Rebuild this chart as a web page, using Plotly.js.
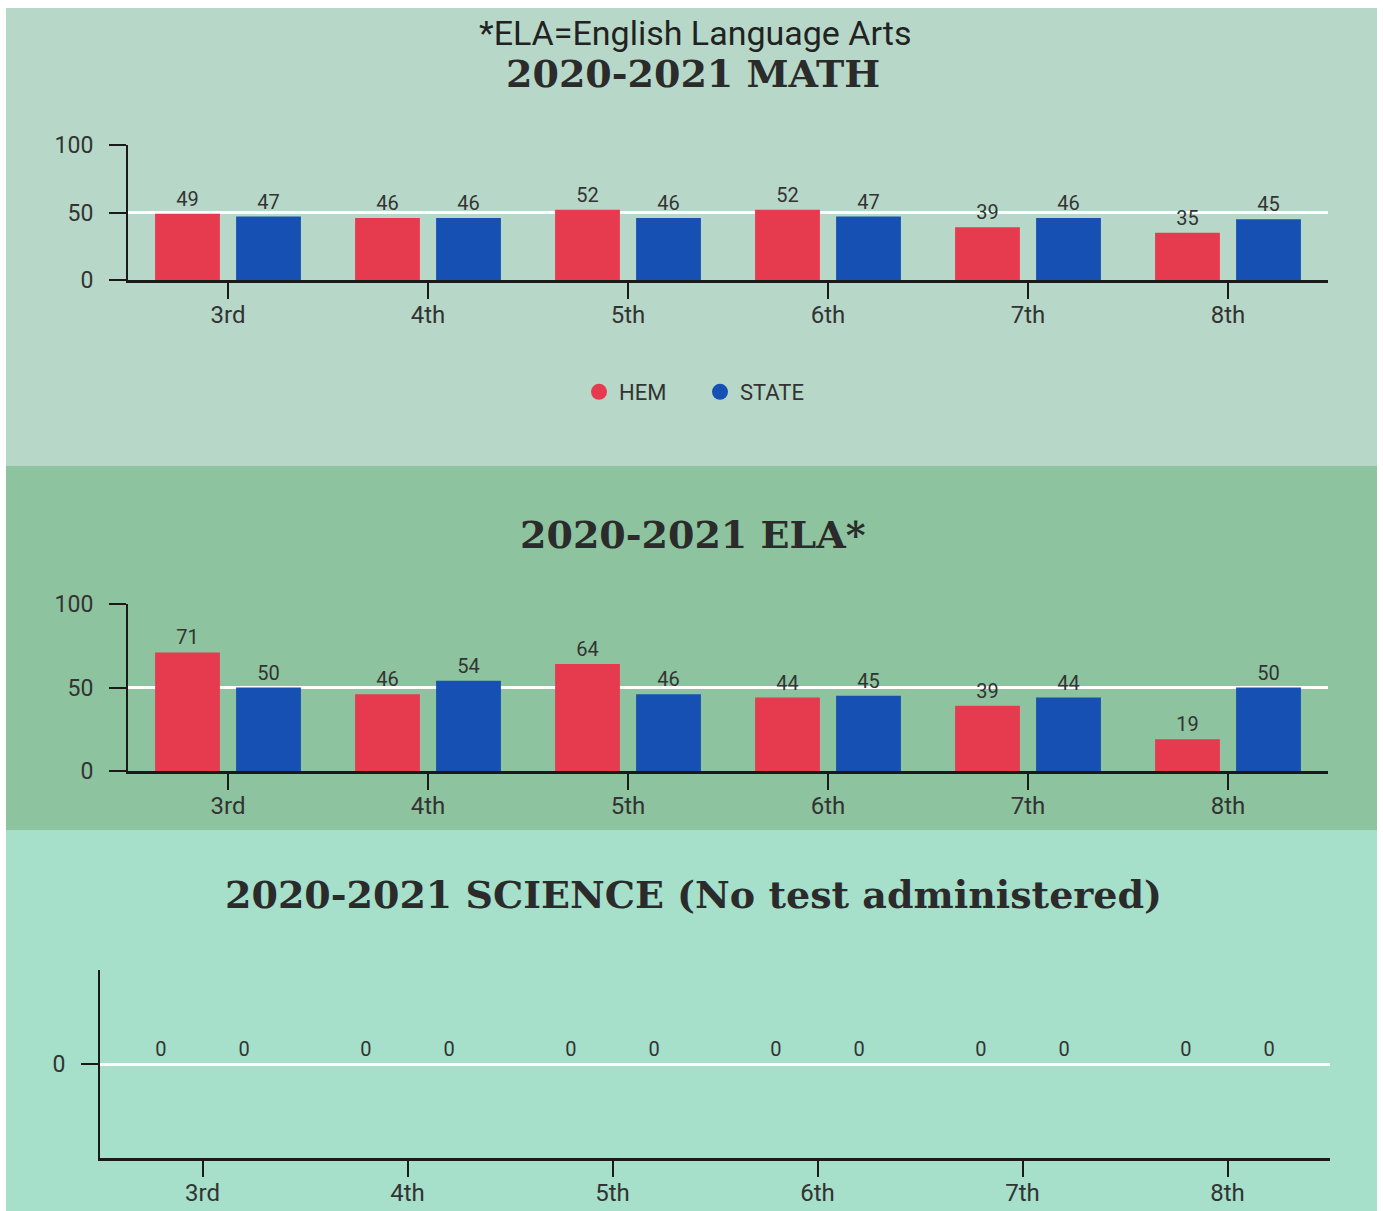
<!DOCTYPE html>
<html>
<head>
<meta charset="utf-8">
<script src="https://cdn.plot.ly/plotly-3.0.1.min.js"></script>
<style>html,body{margin:0;padding:0;background:#fff;}#chart{width:1383px;height:1211px;}</style>
</head>
<body>
<div id="chart"></div>
<script>
// ---- Data ----
const grades = ['3rd', '4th', '5th', '6th', '7th', '8th'];
const mathHem = [49, 46, 52, 52, 39, 35];
const mathState = [47, 46, 46, 47, 46, 45];
const elaHem = [71, 46, 64, 44, 39, 19];
const elaState = [50, 54, 46, 45, 44, 50];
const sciHem = [0, 0, 0, 0, 0, 0];
const sciState = [0, 0, 0, 0, 0, 0];
const seriesNames = ['HEM', 'STATE'];
const yTicksPct = [0, 50, 100];
const yTicksSci = [0];

// ---- Styles ----
const RED = '#e63a4e';
const BLUE = '#1550b2';
const TXT = '#333333';
const W = 1383, H = 1211;
const py = p => 1 - p / H;
const px = p => p / W;
const labelFont = {family: 'Roboto, "Liberation Sans", sans-serif', size: 20, color: TXT};

function bars(x, y, name, color, xa, ya) {
  return {
    type: 'bar', x: x, y: y, name: name, xaxis: xa, yaxis: ya,
    marker: {color: color}, showlegend: false,
    texttemplate: '%{y}', textposition: 'outside', textfont: labelFont,
    cliponaxis: false, hoverinfo: 'skip'
  };
}

const traces = [
  bars(grades, mathHem, seriesNames[0], RED, 'x', 'y'),
  bars(grades, mathState, seriesNames[1], BLUE, 'x', 'y'),
  bars(grades, elaHem, seriesNames[0], RED, 'x2', 'y2'),
  bars(grades, elaState, seriesNames[1], BLUE, 'x2', 'y2'),
  bars(grades, sciHem, seriesNames[0], RED, 'x3', 'y3'),
  bars(grades, sciState, seriesNames[1], BLUE, 'x3', 'y3'),
  // legend entries
  {type: 'scatter', mode: 'markers', x: [null], y: [null], name: seriesNames[0],
   marker: {color: RED, size: 24, symbol: 'circle'}, xaxis: 'x', yaxis: 'y'},
  {type: 'scatter', mode: 'markers', x: [null], y: [null], name: seriesNames[1],
   marker: {color: BLUE, size: 24, symbol: 'circle'}, xaxis: 'x', yaxis: 'y'}
];

const tickFontY = {family: 'Roboto, sans-serif', size: 23, color: TXT};
const tickFontX = {family: 'Roboto, sans-serif', size: 24, color: TXT};

function xaxis(domain, anchor) {
  return {
    domain: domain, anchor: anchor, type: 'category', categoryorder: 'array', categoryarray: grades,
    range: [-0.5, 5.5], showline: true, linecolor: '#1a1a1a', linewidth: 3,
    ticks: 'outside', ticklen: 16, tickwidth: 2, tickcolor: '#1a1a1a',
    tickfont: tickFontX, ticklabelstandoff: -5, showgrid: false, zeroline: false, fixedrange: true
  };
}
function yaxis(domain, anchor, range, tickvals) {
  return {
    domain: domain, anchor: anchor, range: range, tickvals: tickvals, ticktext: tickvals.map(String),
    showline: true, linecolor: '#1a1a1a', linewidth: 2,
    ticks: 'outside', ticklen: 17, tickwidth: 2, tickcolor: '#1a1a1a',
    tickfont: tickFontY, ticklabelstandoff: 11,
    showgrid: true, gridcolor: '#ffffff', gridwidth: 3, zeroline: false, fixedrange: true
  };
}

const titleFont = {family: '"DejaVu Serif", serif', size: 38, color: '#2b2b2b', weight: 'bold'};

const layout = {
  width: W, height: H,
  margin: {l: 0, r: 0, t: 0, b: 0},
  paper_bgcolor: '#ffffff',
  plot_bgcolor: 'rgba(0,0,0,0)',
  barmode: 'group', bargap: 0.19, bargroupgap: 0.2,
  showlegend: true,
  legend: {orientation: 'h', x: px(700), xanchor: 'center', y: py(392), yanchor: 'middle',
    entrywidth: 76, entrywidthmode: 'pixels',
    font: {family: 'Roboto, sans-serif', size: 22, color: TXT}, bgcolor: 'rgba(0,0,0,0)',
    itemclick: false, itemdoubleclick: false},
  xaxis: xaxis([px(128), px(1328)], 'y'),
  yaxis: yaxis([py(280), py(145)], 'x', [0, 100], yTicksPct),
  xaxis2: xaxis([px(128), px(1328)], 'y2'),
  yaxis2: yaxis([py(771), py(604)], 'x2', [0, 100], yTicksPct),
  xaxis3: xaxis([px(100), px(1330)], 'y3'),
  yaxis3: Object.assign(yaxis([py(1158), py(970)], 'x3', [-1, 1], yTicksSci),
    {showgrid: false, zeroline: true, zerolinecolor: '#ffffff', zerolinewidth: 3}),
  shapes: [
    {type: 'rect', xref: 'paper', yref: 'paper', x0: px(6), x1: px(1377), y0: py(466), y1: py(8),
     fillcolor: '#b7d8c8', line: {width: 0}, layer: 'below'},
    {type: 'rect', xref: 'paper', yref: 'paper', x0: px(6), x1: px(1377), y0: py(830), y1: py(466),
     fillcolor: '#8ec39f', line: {width: 0}, layer: 'below'},
    {type: 'rect', xref: 'paper', yref: 'paper', x0: px(6), x1: px(1377), y0: 0, y1: py(830),
     fillcolor: '#a6dfca', line: {width: 0}, layer: 'below'}
  ],
  annotations: [
    {text: '*ELA=English Language Arts', xref: 'paper', yref: 'paper', x: px(695), y: py(33),
     showarrow: false, xanchor: 'center', yanchor: 'middle',
     font: {family: 'Roboto, sans-serif', size: 34, color: '#222222'}},
    {text: '2020-2021 MATH', xref: 'paper', yref: 'paper', x: px(693), y: py(73),
     showarrow: false, xanchor: 'center', yanchor: 'middle', font: titleFont},
    {text: '2020-2021 ELA*', xref: 'paper', yref: 'paper', x: px(693), y: py(534),
     showarrow: false, xanchor: 'center', yanchor: 'middle', font: titleFont},
    {text: '2020-2021 SCIENCE (No test administered)', xref: 'paper', yref: 'paper', x: px(693), y: py(894),
     showarrow: false, xanchor: 'center', yanchor: 'middle', font: titleFont}
  ]
};

Plotly.newPlot('chart', traces, layout, {staticPlot: true, displayModeBar: false});
</script>
</body>
</html>
